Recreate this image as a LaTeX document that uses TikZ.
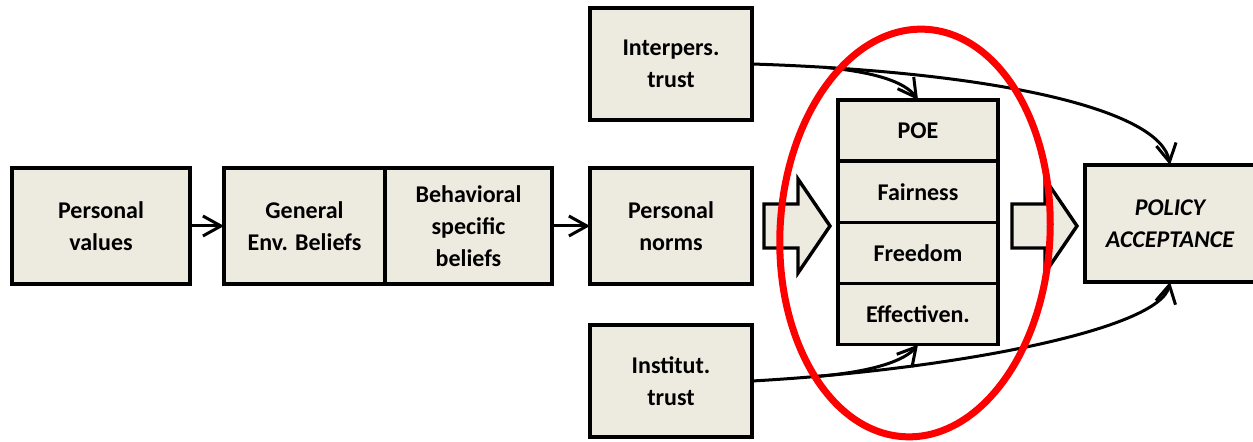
\documentclass[tikz,border=0pt]{standalone}
\usepackage{fontspec}
\setmainfont{Carlito}
\usetikzlibrary{positioning}
\usetikzlibrary{arrows.meta}

\definecolor{boxfill}{RGB}{237,234,224}

\tikzset{
  box/.style={draw,line width=1.7pt,fill=boxfill,align=center,inner sep=0pt,outer sep=0pt,font=\fontsize{12}{16}\selectfont\bfseries},
  link/.style={line width=1.5pt,-{Straight Barb[length=9pt,width=10pt,line width=1.5pt]}},
  fat/.style={draw,line width=1.7pt,fill=boxfill,line join=miter},
}

\begin{document}
\begin{tikzpicture}[x=0.5pt,y=-0.5pt]
\clip (0,0) rectangle (1253,442);

\node[box,minimum width=89pt,minimum height=58pt] (values) at (101,226) {Personal\\values};
\node[box,minimum width=80.5pt,minimum height=58pt] (gen) at (304.5,226) {General\\Env. Beliefs};
\node[box,minimum width=83.5pt,minimum height=58pt,right=0pt of gen] (behav) {Behavioral\\specific\\beliefs};
\node[box,minimum width=81pt,minimum height=58pt] (norms) at (671,226) {Personal\\norms};
\node[box,minimum width=81pt,minimum height=56pt] (inter) at (671,64) {Interpers.\\trust};
\node[box,minimum width=81pt,minimum height=56pt] (inst) at (671,381) {Institut.\\trust};

% stack of perceptions
\node[box,minimum width=80pt,minimum height=30.6pt] (poe) at (918,130.5) {POE};
\node[box,minimum width=80pt,minimum height=30.6pt,below=0pt of poe] (fair) {Fairness};
\node[box,minimum width=80pt,minimum height=30.6pt,below=0pt of fair] (free) {Freedom};
\node[box,minimum width=80pt,minimum height=30.6pt,below=0pt of free] (eff) {Effectiven.};

\node[box,minimum width=85pt,minimum height=58.5pt,font=\fontsize{12}{16}\selectfont\bfseries\itshape] (policy) at (1170,223.5) {POLICY\\ACCEPTANCE};

\draw[link] (values) -- (gen);
\draw[link] (behav) -- (norms);

% block arrows
\draw[fat] (764,204) -- (798,204) -- (798,179) -- (830,226) -- (798,273) -- (798,248) -- (764,248) -- cycle;
\draw[fat] (1012,204) -- (1045,204) -- (1045,179) -- (1077,226) -- (1045,273) -- (1045,248) -- (1012,248) -- cycle;

% trust paths
\draw[link] (inter.east) .. controls (1000,72) and (1160,110) .. (policy.north) coordinate[pos=0.1] (split top);
\draw[link] (split top) .. controls (875,72) and (905,82) .. (poe.north);
\draw[link] (inst.east) .. controls (950,370) and (1160,330) .. (policy.south) coordinate[pos=0.1] (split bottom);
\draw[link] (split bottom) .. controls (875,372) and (905,360) .. (eff.south);

\draw[red,line width=3.5pt,rotate around={-3:(915,233)}] (915,233) ellipse [x radius=135,y radius=204];
\end{tikzpicture}
\end{document}
